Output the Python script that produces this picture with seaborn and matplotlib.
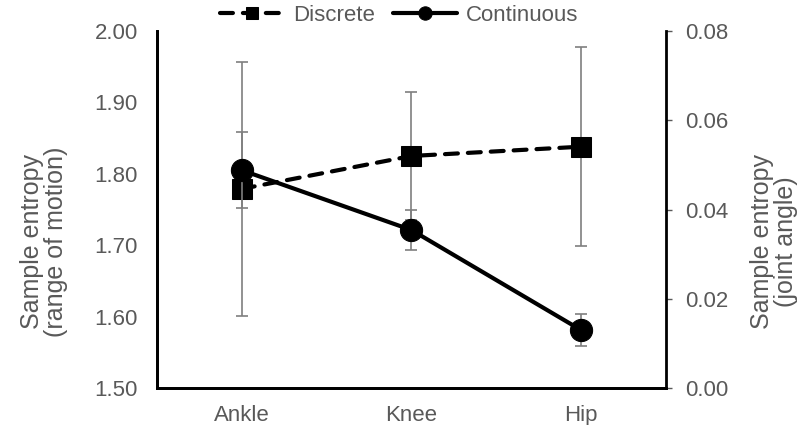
import pandas as pd
import matplotlib.pyplot as plt
import seaborn as sns

# Data
joints = ['Ankle', 'Knee', 'Hip']
discrete = [1.779, 1.825, 1.838]          # left axis (range of motion)
discrete_err = [0.178, 0.090, 0.139]
continuous = [0.0488, 0.0354, 0.0130]     # right axis (joint angle)
continuous_err = [0.0085, 0.0044, 0.0035]

sns.set_style('white')
plt.rcParams['font.family'] = ['Liberation Sans', 'DejaVu Sans']
grey = '#595959'

df = pd.DataFrame({'Joint': joints, 'Discrete': discrete, 'Continuous': continuous})

fig = plt.figure(figsize=(8.06, 4.25), dpi=100)
ax = fig.add_axes([0.195, 0.087, 0.631, 0.840])
ax2 = ax.twinx()

# Discrete series on the left axis
ax.errorbar(joints, discrete, yerr=discrete_err, fmt='none', ecolor='#7f7f7f',
            elinewidth=1.2, capsize=4.3, capthick=1.2, zorder=1)
sns.lineplot(data=df, x='Joint', y='Discrete', ax=ax, color='black', lw=3,
             marker='s', markersize=15, markeredgecolor='black',
             linestyle=(0, (3.1, 2.4)), dash_capstyle='round',
             label='Discrete', zorder=2)

# Continuous series on the right axis
ax2.errorbar(joints, continuous, yerr=continuous_err, fmt='none', ecolor='#7f7f7f',
             elinewidth=1.2, capsize=4.3, capthick=1.2, zorder=1)
sns.lineplot(data=df, x='Joint', y='Continuous', ax=ax2, color='black', lw=3,
             marker='o', markersize=16, markeredgecolor='black',
             label='Continuous', zorder=2)

ax.set_xlim(-0.5, 2.5)
ax.set_ylim(1.5, 2.0)
ax2.set_ylim(0, 0.08)
ax.set_yticks([1.5, 1.6, 1.7, 1.8, 1.9, 2.0])
ax.set_yticklabels([f'{v:.2f}' for v in ax.get_yticks()])
ax2.set_yticks([0, 0.02, 0.04, 0.06, 0.08])
ax2.set_yticklabels([f'{v:.2f}' for v in ax2.get_yticks()])

ax.set_xlabel('')
ax.set_ylabel('Sample entropy\n(range of motion)', fontsize=18, color=grey,
              linespacing=1.0)
ax2.set_ylabel('Sample entropy\n(joint angle)', fontsize=18, color=grey,
               linespacing=1.0)
ax.yaxis.set_label_coords(-0.175, 0.41)
ax2.yaxis.set_label_coords(1.165, 0.41)

ax.tick_params(axis='x', length=0, labelsize=16, labelcolor=grey, pad=12)
ax.tick_params(axis='y', length=0, labelsize=16, labelcolor=grey, pad=14)
ax2.tick_params(axis='y', length=4, width=1, color=grey, labelsize=16,
                labelcolor=grey, pad=10, direction='out')

for a in (ax, ax2):
    a.spines['top'].set_visible(False)
    for s in ('left', 'right', 'bottom'):
        a.spines[s].set_color('black')
        a.spines[s].set_linewidth(2)
ax.spines['right'].set_visible(False)

h1, l1 = ax.get_legend_handles_labels()
h2, l2 = ax2.get_legend_handles_labels()
ax.get_legend().remove()
ax2.get_legend().remove()
fig.legend(h1 + h2, l1 + l2, loc='upper center', bbox_to_anchor=(0.495, 1.035),
           ncol=2, frameon=False, fontsize=16, labelcolor=grey,
           markerscale=0.6, handlelength=2.9, handletextpad=0.4, columnspacing=0.8)

fig.savefig('out.png', dpi=100)
